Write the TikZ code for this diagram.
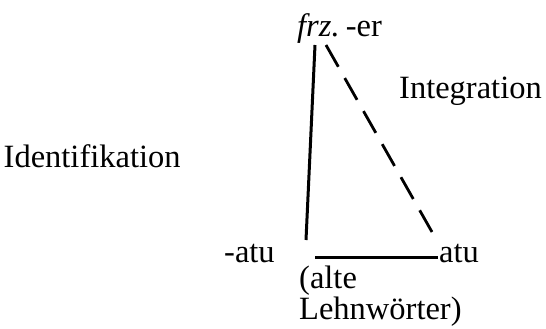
\documentclass[tikz,border=0pt]{standalone}
\usepackage{fontspec}
\setmainfont{Liberation Serif}
\begin{document}
\begin{tikzpicture}[x=1pt,y=-1pt,
  lbl/.style={inner sep=0pt,anchor=base west,font=\fontsize{32.5}{25}\selectfont},
  solidline/.style={line width=3pt},
  dashline/.style={line width=2.8pt,dash pattern=on 25pt off 13pt},
  baseline/.style={line width=2.2pt}]
\useasboundingbox (0,0) rectangle (546,329);
\node[lbl] (frz) at (297,36.5) {\textit{frz.}\kern-2pt\ -er};
\node[lbl] (integ) at (399,98) {Integration};
\node[lbl] (ident) at (3.5,167) {Identifikation};
\node[lbl] (minusatu) at (224,262) {-atu};
\node[lbl] (atu) at (439,262) {atu};
\node[lbl,align=left] (alte) at (299,319) {(alte\\Lehnwörter)};
\coordinate (vtop) at (315,45);
\coordinate (vbot) at (306,240);
\coordinate (dtop) at (326,45);
\coordinate (dbot) at (432,232);
\coordinate (hleft) at (315,257.5);
\coordinate (hright) at (438,257.5);
\draw[solidline] (vtop) -- (vbot);
\draw[dashline] (dtop) -- (dbot);
\draw[baseline] (hleft) -- (hright);
\end{tikzpicture}
\end{document}
